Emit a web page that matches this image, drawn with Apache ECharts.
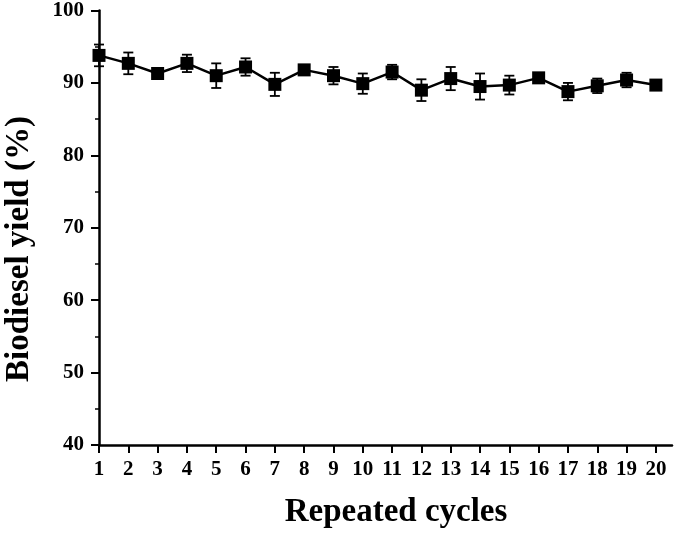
<!DOCTYPE html>
<html>
<head>
<meta charset="utf-8">
<script src="https://cdn.jsdelivr.net/npm/echarts@6/dist/echarts.min.js"></script>
<style>
  html, body { margin: 0; padding: 0; background: #fff; }
  #chart { width: 675px; height: 534px; }
</style>
</head>
<body>
<div id="chart"></div>
<script>
// cycles and yields
let cycles = [1, 2, 3, 4, 5, 6, 7, 8, 9, 10, 11, 12, 13, 14, 15, 16, 17, 18, 19, 20];
let yields = [93.8, 92.7, 91.3, 92.7, 91.0, 92.2, 89.8, 91.8, 91.0, 89.9, 91.5, 89.0, 90.6, 89.5, 89.7, 90.7, 88.8, 89.6, 90.4, 89.7];
let errs = [1.5, 1.5, 0.5, 1.2, 1.7, 1.2, 1.6, 0.5, 1.2, 1.4, 1.0, 1.5, 1.6, 1.8, 1.3, 0.4, 1.2, 1.0, 1.0, 0.4];

let fontFam = '"Liberation Serif", "Times New Roman", serif';

let lineData = [];
let errData = [];
for (let i = 0; i < cycles.length; i++) {
  lineData.push([cycles[i], yields[i]]);
  errData.push([cycles[i], yields[i] - errs[i], yields[i] + errs[i]]);
}

let myChart = echarts.init(document.getElementById('chart'));

let option = {
  backgroundColor: '#fff',
  animation: false,
  grid: {
    left: 99,
    right: 3,
    top: 10,
    bottom: 89
  },
  // axis titles
  graphic: [
    {
      type: 'text',
      x: 396,
      y: 512,
      style: {
        text: 'Repeated cycles',
        fontFamily: fontFam, fontWeight: 'bold', fontSize: 33, fill: '#000',
        textAlign: 'center', textVerticalAlign: 'middle'
      }
    },
    {
      type: 'text',
      x: 19,
      y: 249,
      rotation: Math.PI / 2,
      style: {
        text: 'Biodiesel yield (%)',
        fontFamily: fontFam, fontWeight: 'bold', fontSize: 33, fill: '#000',
        textAlign: 'center', textVerticalAlign: 'middle'
      }
    }
  ],
  xAxis: {
    type: 'value',
    min: 1,
    max: 20.55,   // axis line runs a bit past the last cycle
    interval: 1,
    axisLine: { show: true, lineStyle: { color: '#000', width: 2.5 } },
    axisTick: { show: true, inside: false, length: 8, customValues: cycles, lineStyle: { color: '#000', width: 2 } },
    axisLabel: { fontFamily: fontFam, fontWeight: 'bold', fontSize: 21, color: '#000', margin: 14, customValues: cycles },
    splitLine: { show: false }
  },
  yAxis: {
    type: 'value',
    min: 40,
    max: 100,
    interval: 10,
    axisLine: { show: true, lineStyle: { color: '#000', width: 2.5 } },
    axisTick: { show: true, inside: false, length: 8, lineStyle: { color: '#000', width: 2 } },
    minorTick: { show: true, splitNumber: 2, length: 4, lineStyle: { color: '#000', width: 1.5 } },
    axisLabel: { fontFamily: fontFam, fontWeight: 'bold', fontSize: 21, color: '#000', margin: 15 },
    splitLine: { show: false }
  },
  series: [
    {
      type: 'custom',
      z: 1,
      data: errData,
      renderItem: function (params, api) {
        let x = api.value(0);
        let lo = api.coord([x, api.value(1)]);
        let hi = api.coord([x, api.value(2)]);
        let w = 5;
        let st = { stroke: '#000', lineWidth: 1.8 };
        return {
          type: 'group',
          children: [
            { type: 'line', shape: { x1: hi[0], y1: hi[1], x2: lo[0], y2: lo[1] }, style: st },
            { type: 'line', shape: { x1: hi[0] - w, y1: hi[1], x2: hi[0] + w, y2: hi[1] }, style: st },
            { type: 'line', shape: { x1: lo[0] - w, y1: lo[1], x2: lo[0] + w, y2: lo[1] }, style: st }
          ]
        };
      }
    },
    {
      type: 'line',
      z: 2,
      data: lineData,
      symbol: 'rect',
      symbolSize: 13,
      itemStyle: { color: '#000' },
      lineStyle: { color: '#000', width: 2.5 }
    }
  ]
};

myChart.setOption(option);
</script>
</body>
</html>
